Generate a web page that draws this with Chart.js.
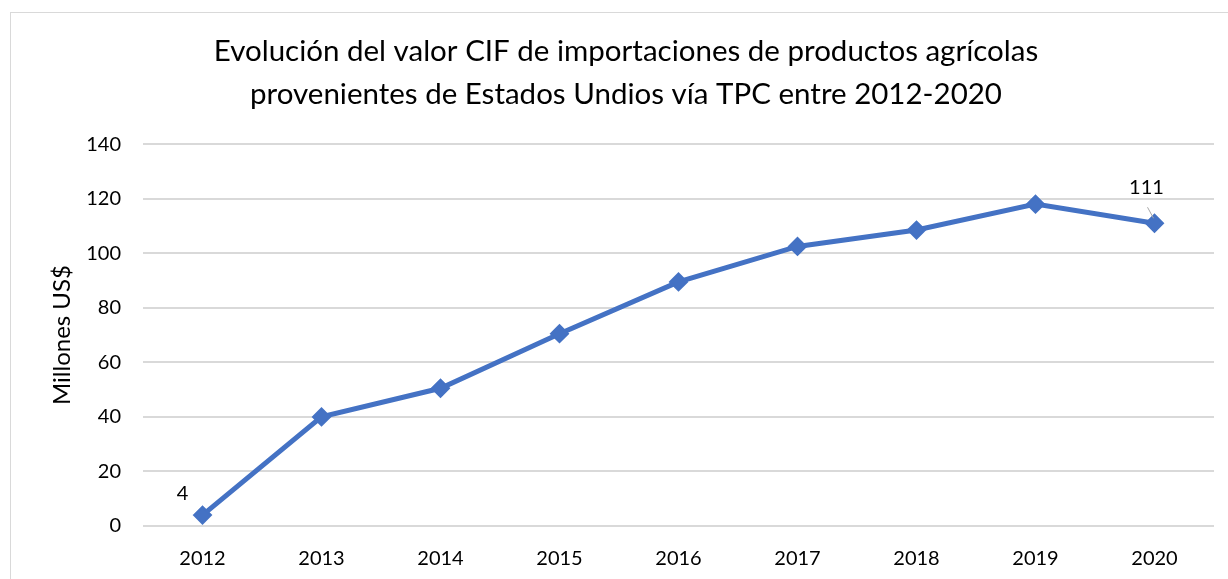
<!DOCTYPE html>
<html>
<head>
<meta charset="utf-8">
<script src="https://cdn.jsdelivr.net/npm/chart.js@4/dist/chart.umd.min.js"></script>
<style>
  html, body { margin: 0; padding: 0; background: #fff; }
  #wrap { position: relative; width: 1228px; height: 579px; }
</style>
</head>
<body>
<div id="wrap"><canvas id="lineChart"></canvas></div>
<script>
const years = ['2012', '2013', '2014', '2015', '2016', '2017', '2018', '2019', '2020']
const cifValues = [4, 40, 50.5, 70.5, 89.5, 102.5, 108.5, 118, 111]
const pointLabels = ['4', null, null, null, null, null, null, null, '111']
const yTicks = [0, 20, 40, 60, 80, 100, 120, 140]

const titleLines = [
   'Evolución del valor CIF de importaciones de productos agrícolas',
   'provenientes de Estados Undios vía TPC entre 2012-2020'
]

const fontFamily = 'Lato, "Open Sans", "Noto Sans", sans-serif'
const blue = '#4472C4'

// outer frame like the spreadsheet chart box
const frame = {
   id: 'frame',
   beforeDraw(chart) {
      const ctx = chart.ctx
      ctx.save()
      ctx.strokeStyle = '#d9d9d9'
      ctx.lineWidth = 1
      ctx.strokeRect(10.5, 12.5, 1240, 600)
      ctx.restore()
   }
}

// the two value labels (first and last point)
const valueLabels = {
   id: 'valueLabels',
   afterDatasetsDraw(chart) {
      const ctx = chart.ctx
      const meta = chart.getDatasetMeta(0)
      ctx.save()
      ctx.font = '20px ' + fontFamily
      ctx.fillStyle = '#000'
      ctx.textAlign = 'center'
      ctx.textBaseline = 'middle'
      pointLabels.forEach((txt, i) => {
         if (!txt) return
         const p = meta.data[i]
         if (i === pointLabels.length - 1) {
            ctx.fillText(txt, p.x - 8, p.y - 36)
            ctx.strokeStyle = '#a6a6a6'
            ctx.lineWidth = 1
            ctx.beginPath()
            ctx.moveTo(p.x - 7, p.y - 16)
            ctx.lineTo(p.x - 1, p.y - 5)
            ctx.stroke()
         } else {
            ctx.fillText(txt, p.x - 20, p.y - 22)
         }
      })
      ctx.restore()
   }
}

const ctx = document.getElementById('lineChart').getContext('2d')
new Chart(ctx, {
   type: 'line',
   data: {
      labels: years,
      datasets: [{
         label: 'Millones US$',
         data: cifValues,
         borderColor: blue,
         backgroundColor: blue,
         borderWidth: 5,
         pointStyle: 'rectRot',
         pointRadius: 8.5,
         pointBorderWidth: 2,
         pointBackgroundColor: blue,
         pointBorderColor: blue,
         tension: 0,
         fill: false
      }]
   },
   options: {
      responsive: true,
      maintainAspectRatio: false,
      animation: false,
      layout: { padding: { left: 38, right: 14, top: 0, bottom: 0 } },
      plugins: {
         legend: { display: false },
         tooltip: { enabled: false },
         title: {
            display: true,
            text: titleLines,
            color: '#000',
            font: { family: fontFamily, size: 29.5, weight: 'normal', lineHeight: 1.46 },
            padding: { top: 30, bottom: 28 }
         }
      },
      scales: {
         x: {
            offset: true,
            grid: { display: false },
            border: { display: false },
            ticks: { color: '#000', font: { family: fontFamily, size: 20 }, padding: 13 },
            afterFit(scale) { scale.height = 53 }
         },
         y: {
            min: 0,
            max: 140,
            afterBuildTicks(scale) { scale.ticks = yTicks.map(v => ({ value: v })) },
            grid: { color: '#d9d9d9', lineWidth: 2, drawTicks: false },
            border: { display: false },
            ticks: { color: '#000', font: { family: fontFamily, size: 20 }, padding: 22 },
            title: {
               display: true,
               text: 'Millones US$',
               color: '#000',
               font: { family: fontFamily, size: 24 },
               padding: { top: 10, bottom: 0 }
            },
            afterFit(scale) { scale.width = 105 }
         }
      }
   },
   plugins: [frame, valueLabels]
})
</script>
</body>
</html>
